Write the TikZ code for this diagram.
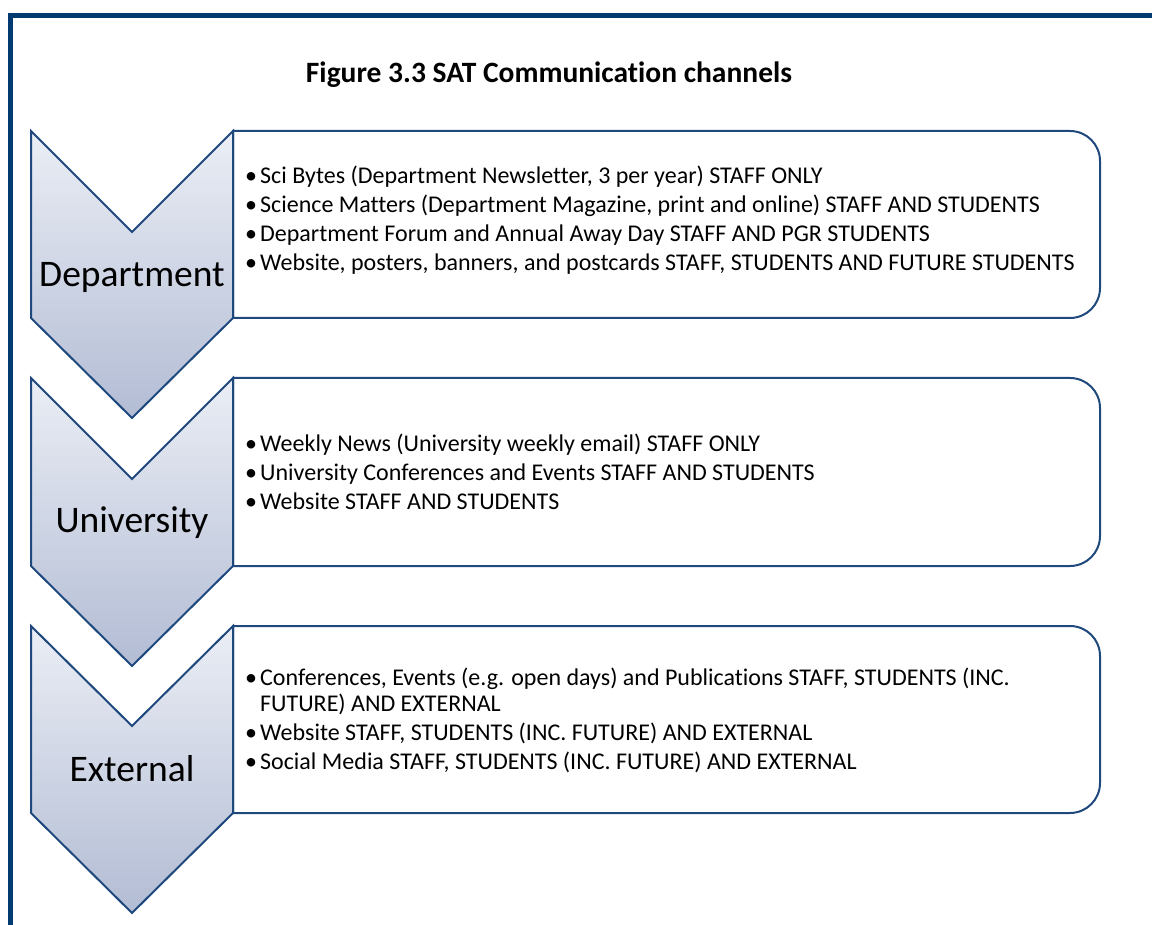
\documentclass[tikz,border=0pt]{standalone}
\usepackage{fontspec}
\setmainfont[Ligatures={NoCommon}]{Carlito}
\newcommand{\chanitem}{\makebox[15pt][l]{\textbullet}}

\begin{document}
\begin{tikzpicture}[x=1pt, y=1pt]

  % Define Colors
  \definecolor{frameblue}{RGB}{0,58,112}
  \definecolor{lineblue}{RGB}{31,73,125}
  \definecolor{chevtop}{RGB}{235,238,245}
  \definecolor{chevbot}{RGB}{178,188,212}

  % Styles
  \tikzstyle{chevron}=[draw=lineblue, line width=2pt, line join=miter, top color=chevtop, bottom color=chevbot]
  \tikzstyle{listbox}=[draw=lineblue, line width=2pt, fill=white]
  \tikzstyle{levelname}=[font=\fontsize{37.5}{40}\selectfont, inner sep=0pt]
  \tikzstyle{chanlist}=[anchor=west, align=left, inner sep=0pt, font=\fontsize{24}{26}\selectfont]

  \clip (0,0) rectangle (1152,-925);

  % Frame
  \draw[frameblue, line width=5pt] (10,-960) -- (10,-16) -- (1200,-16);

  % Title
  \node[font=\fontsize{29.5}{32}\selectfont\bfseries] (title) at (549,-75) {Figure 3.3 SAT Communication channels};

  % Boxes
  \draw[listbox] (233,-131) -- (1070,-131) arc[start angle=90, end angle=0, radius=30] -- (1100,-288) arc[start angle=0, end angle=-90, radius=30] -- (233,-318) -- cycle;
  \draw[listbox] (233,-378) -- (1070,-378) arc[start angle=90, end angle=0, radius=30] -- (1100,-536) arc[start angle=0, end angle=-90, radius=30] -- (233,-566) -- cycle;
  \draw[listbox] (233,-626) -- (1070,-626) arc[start angle=90, end angle=0, radius=30] -- (1100,-783) arc[start angle=0, end angle=-90, radius=30] -- (233,-813) -- cycle;

  % Chevrons
  \draw[chevron] (31,-131) -- (132,-232) -- (233,-131) -- (233,-318) -- (132,-418) -- (31,-318) -- cycle;
  \draw[chevron] (31,-378) -- (132,-479) -- (233,-378) -- (233,-566) -- (132,-666) -- (31,-566) -- cycle;
  \draw[chevron] (31,-626) -- (132,-726) -- (233,-626) -- (233,-813) -- (132,-913) -- (31,-813) -- cycle;

  % Level names
  \node[levelname] (dept) at (132,-277) {Department};
  \node[levelname] (univ) at (132,-523) {University};
  \node[levelname] (ext) at (132,-769) {External};

  % Channels
  \node[chanlist] (deptlist) at (245,-220) {\chanitem Sci Bytes (Department Newsletter, 3 per year) STAFF ONLY\\[3pt]
    \chanitem Science Matters (Department Magazine, print and online) STAFF AND STUDENTS\\[3pt]
    \chanitem Department Forum and Annual Away Day STAFF AND PGR STUDENTS\\[3pt]
    \chanitem Website, posters, banners, and postcards STAFF, STUDENTS AND FUTURE STUDENTS};

  \node[chanlist] (univlist) at (245,-472) {\chanitem Weekly News (University weekly email) STAFF ONLY\\[3pt]
    \chanitem University Conferences and Events STAFF AND STUDENTS\\[3pt]
    \chanitem Website STAFF AND STUDENTS};

  \node[chanlist] (extlist) at (245,-720) {\chanitem Conferences, Events (e.g. open days) and Publications STAFF, STUDENTS (INC.\\
    \hspace*{15pt}FUTURE) AND EXTERNAL\\[3pt]
    \chanitem Website STAFF, STUDENTS (INC. FUTURE) AND EXTERNAL\\[3pt]
    \chanitem Social Media STAFF, STUDENTS (INC. FUTURE) AND EXTERNAL};

\end{tikzpicture}
\end{document}
